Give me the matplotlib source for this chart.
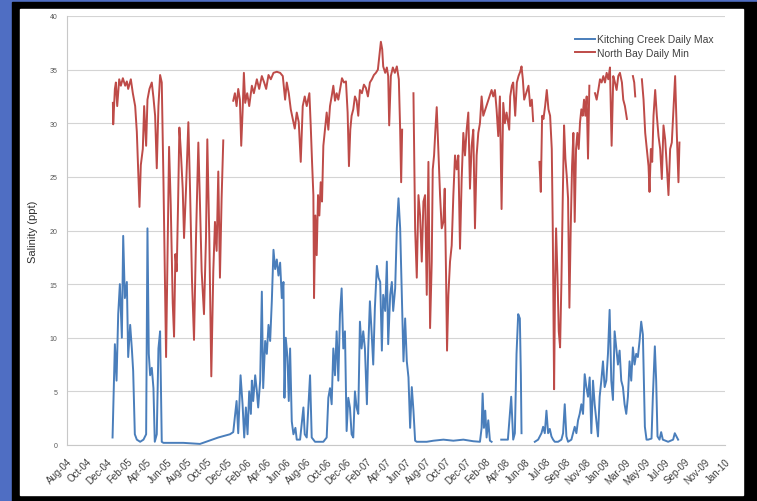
import numpy as np
import matplotlib
matplotlib.use("Agg")
import matplotlib.pyplot as plt
from matplotlib.patches import Rectangle

plt.rcParams['font.family'] = ['Liberation Sans', 'DejaVu Sans']

# x = days since 1 Aug 2004, nan = gap in the record
nb_days = [138, 139, 144, 147, 151, 157, 162, 168, 175, 180,
           184, 192, 198, 205, 210, 215, 218, 222, 228, 232,
           238, 242, 248, 255, 260, 265, 270, 275, 280, 285,
           290, 295, 298, 303, 307, 312, 318, 322, 326, 330,
           334, 338, 342, 348, 352, 358, 365, 370, 376, 382,
           388, 395, 400, 405, 412, 418, 422, 428, 434, 440,
           445, 450, 455, 460, 465, 470, 485,
           500, 505, 510, 515, 520, 524, 528, 532, 536, 542,
           548, 556, 562, 571, 578, 586, 593, 599, 606, 613,
           621, 631, 641, 649, 656, 661, 667, 673, 679, 685,
           691, 697, 703, 709, 715, 721, 729,
           733, 737, 741, 743, 747, 751, 755, 759, 763, 767,
           771, 776, 781, 786, 791, 796, 801, 806, 811, 816,
           821, 827, 833, 839, 844, 848, 852, 856, 861, 866,
           871, 876, 881, 887, 893, 899, 905, 911, 917, 923,
           929, 935, 939, 944, 948, 951, 957, 962, 966, 969,
           974, 980, 986, 992, 998, 1002, 1005, 1008, 1025,
           1042, 1047, 1052, 1057, 1062, 1067, 1072, 1077, 1082, 1087,
           1092, 1097, 1100, 1104, 1108, 1112, 1116, 1122, 1127, 1132,
           1136, 1140, 1143, 1147, 1152, 1157, 1162, 1167, 1172, 1177,
           1182, 1187, 1192, 1197, 1202, 1207, 1212, 1217, 1222, 1227,
           1232, 1237, 1242, 1247, 1252, 1277, 1282, 1287, 1292, 1297,
           1302, 1307, 1312, 1317, 1322, 1330, 1333, 1338, 1342, 1348,
           1353, 1358, 1363, 1367, 1371, 1375, 1381, 1388, 1393, 1398,
           1402, 1412,
           1421, 1425, 1429, 1433, 1438, 1443, 1448, 1453, 1458, 1461,
           1463, 1465, 1468, 1471, 1475, 1479, 1483, 1487, 1491, 1495,
           1499, 1503, 1507, 1511, 1515, 1519, 1523, 1527, 1531, 1535,
           1539, 1543, 1547, 1551, 1555, 1559, 1563, 1567, 1571, 1580,
           1588, 1593, 1598, 1603, 1608, 1613, 1618, 1623, 1628, 1633,
           1638, 1643, 1648, 1653, 1658, 1663, 1669, 1673, 1678, 1684,
           1693, 1702, 1706, 1709, 1719,
           1729, 1734, 1739, 1744, 1749, 1752, 1756, 1760, 1764,
           1769, 1774, 1779, 1784, 1789, 1794, 1799, 1804, 1809, 1814,
           1819, 1829, 1834, 1839, 1842]
nb_min = [31.9, 29.9, 33.2, 33.8, 31.6, 34.1, 33.5, 34.2, 33.5, 33.9,
          33.2, 34.1, 32.8, 31.6, 29.2, 24.8, 22.2, 26.1, 27.6, 31.6,
          27.9, 32.2, 33.2, 33.8, 32.4, 30.7, 25.8, 31.6, 34.5, 33.8,
          24.8, 14.7, 8.2, 19.3, 27.8, 22.4, 13.2, 10.1, 17.8, 16.2,
          22.4, 29.6, 27.6, 23.9, 19.3, 23.9, 30.1, 23.9, 15.3, 9.8,
          19.3, 28.2, 22.4, 16.2, 12.2, 19.3, 28.5, 19.3, 6.4, 16.2,
          20.8, 18.1, 25.5, 15.6, 23.0, 28.4, np.nan,
          32.1, 32.8, 31.6, 33.2, 32.2, 27.9, 31.0, 34.7, 31.9, 32.8,
          31.6, 33.5, 32.8, 34.1, 33.2, 34.4, 33.8, 33.2, 34.5, 34.1,
          34.7, 34.8, 34.7, 34.4, 32.2, 33.8, 32.8, 31.3, 30.4, 29.5,
          31.0, 30.1, 26.4, 31.6, 32.5, 31.6, 32.8,
          29.8, 26.4, 23.3, 13.7, 21.4, 17.7, 23.3, 21.4, 24.5, 22.7,
          27.9, 29.4, 31.0, 29.4, 31.6, 32.5, 33.5, 32.1, 32.8, 32.2,
          33.1, 34.2, 33.8, 33.9, 31.0, 26.0, 29.4, 30.7, 31.3, 32.5,
          32.1, 30.7, 33.1, 32.8, 33.6, 33.3, 32.5, 33.8, 34.1, 34.5,
          34.7, 35.0, 36.2, 37.6, 36.9, 35.3, 34.7, 35.2, 34.4, 29.8,
          34.4, 35.2, 34.7, 35.3, 34.1, 29.4, 24.5, 29.4, np.nan,
          32.8, 20.2, 15.6, 23.3, 21.4, 17.1, 22.7, 23.3, 14.0, 26.4,
          10.9, 17.1, 25.7, 27.0, 29.4, 31.5, 28.2, 23.3, 20.2, 20.8,
          23.9, 15.9, 8.8, 14.0, 17.1, 18.6, 23.3, 27.0, 25.7, 27.0,
          18.3, 24.8, 29.1, 27.0, 29.4, 31.0, 23.9, 27.9, 29.4, 20.2,
          27.0, 29.1, 30.0, 32.5, 30.7, 33.1, 32.5, 33.1, 31.3, 28.8,
          32.5, 22.0, 31.9, 30.0, 31.0, 29.4, 32.5, 33.5, 33.8, 30.7,
          33.8, 34.4, 34.8, 35.3, 34.1, 32.2, 32.8, 33.5, 31.6, 32.2,
          30.2, np.nan,
          26.4, 23.6, 30.7, 30.4, 31.6, 33.1, 31.3, 30.7, 27.6, 20.2,
          12.2, 5.2, 15.2, 20.2, 15.9, 10.6, 9.1, 15.2, 23.0, 29.8,
          26.7, 25.1, 23.0, 12.8, 20.2, 26.0, 29.1, 20.8, 27.6, 29.1,
          27.6, 30.1, 31.3, 30.7, 32.2, 30.7, 32.5, 26.7, 33.5, np.nan,
          32.8, 32.2, 33.1, 34.1, 33.8, 34.4, 33.8, 34.7, 34.1, 35.2,
          27.9, 34.4, 33.8, 33.1, 34.4, 34.7, 33.8, 32.2, 31.6, 30.4,
          np.nan, 34.4, 33.8, 32.5, np.nan,
          34.1, 32.2, 29.1, 27.6, 26.0, 23.6, 27.6, 26.4, 30.7,
          33.1, 30.7, 28.8, 27.6, 24.8, 29.8, 28.5, 26.0, 23.3, 27.6,
          28.2, 34.4, 29.1, 24.5, 28.2]

kc_days = [137, 144, 149, 154, 159, 165, 169, 174, 180, 184,
           190, 195, 199, 204, 210, 220, 230, 238, 242, 246,
           250, 255, 260, 264, 270, 275, 280, 285, 290, 350,
           400, 455, 490, 500, 510, 515, 522, 528, 533, 538,
           543, 548, 553, 556, 560, 566, 571, 575, 581, 586,
           590, 596, 601, 606, 611, 616, 621, 626, 631, 636,
           641, 646, 651, 654, 658, 663, 667, 671, 676, 681,
           687, 691, 701, 711, 715, 721, 731, 736, 746, 771,
           781, 786, 791, 796, 801, 806, 811, 816, 821, 826,
           831, 836, 841, 846, 851, 856, 861, 866, 871, 876,
           881, 886, 891, 896, 902, 906, 911, 916, 921, 926,
           932,
           937, 942, 947, 951, 957, 962, 966, 972, 977, 981,
           987, 992, 997, 1002, 1007, 1012, 1017, 1022, 1027, 1032,
           1037, 1042, 1047, 1052, 1082, 1102, 1132, 1162, 1192, 1222,
           1242, 1247, 1250, 1254, 1258, 1262, 1267, 1272, 1277, 1292,
           1306, 1326, 1336, 1342, 1347, 1352, 1357, 1362, 1365, 1367,
           1390,
           1407, 1417, 1427, 1432, 1437, 1442, 1447, 1452, 1457, 1462,
           1467, 1477, 1487, 1492, 1497, 1502, 1507, 1517, 1522, 1527,
           1532, 1537, 1542, 1547, 1552, 1557, 1562, 1567, 1572, 1577,
           1582, 1587, 1592, 1597, 1602, 1607, 1612, 1617, 1622, 1627,
           1632, 1637, 1642, 1647, 1652, 1657, 1662, 1667, 1672, 1677,
           1682, 1687, 1692, 1697, 1702, 1707, 1712, 1717, 1722, 1727,
           1732, 1738, 1743, 1748, 1758, 1762, 1768, 1772, 1776, 1782,
           1787, 1792, 1808, 1823, 1828, 1833, 1838]
kc_max = [0.7, 9.4, 6.0, 12.2, 15.0, 10.0, 19.5, 13.7, 15.2, 8.2,
          11.2, 9.0, 6.9, 1.0, 0.5, 0.3, 0.5, 1.0, 20.2, 8.5,
          6.5, 7.2, 5.3, 0.3, 1.0, 9.0, 10.6, 0.3, 0.2, 0.2,
          0.1, 0.7, 1.0, 1.2, 4.1, 1.1, 6.5, 3.8, 0.7, 3.5,
          1.0, 5.0, 2.9, 6.0, 4.1, 6.5, 5.0, 3.5, 6.0, 14.3,
          5.3, 9.7, 8.5, 11.2, 9.7, 13.4, 18.2, 16.4, 17.3, 15.8,
          17.0, 13.7, 15.2, 4.4, 10.0, 8.2, 4.1, 9.0, 2.2, 1.0,
          1.6, 0.5, 0.5, 3.5, 1.0, 0.7, 6.5, 0.7, 0.3, 0.3,
          0.7, 4.4, 5.3, 3.8, 9.0, 6.5, 10.6, 6.0, 12.2, 14.6,
          9.0, 10.6, 1.3, 4.4, 3.5, 1.0, 0.7, 5.0, 3.5, 2.9,
          11.5, 9.0, 10.6, 9.0, 3.8, 9.0, 13.4, 10.6, 7.5, 12.8,
          16.7,
          15.6, 15.2, 8.8, 14.0, 12.5, 17.1, 9.4, 14.0, 15.2, 12.5,
          14.6, 20.2, 23.0, 20.2, 14.0, 7.8, 11.8, 7.8, 6.3, 1.6,
          5.4, 3.2, 0.4, 0.3, 0.3, 0.4, 0.5, 0.4, 0.5, 0.35,
          0.3, 1.6, 4.8, 1.6, 3.2, 0.7, 2.3, 0.4, 0.3, np.nan,
          0.5, 0.5, 4.5, 0.5, 1.1, 8.5, 12.2, 11.8, 6.6, 1.1,
          np.nan,
          0.3, 0.5, 1.1, 1.7, 1.1, 3.2, 1.1, 1.5, 0.8, 0.5,
          0.3, 0.3, 0.5, 1.1, 3.8, 0.8, 0.3, 0.5, 1.1, 1.7,
          1.1, 2.3, 2.9, 3.8, 2.9, 6.6, 5.4, 4.5, 6.3, 1.1,
          6.0, 3.8, 2.3, 0.8, 4.5, 6.0, 7.8, 5.4, 6.0, 8.5,
          12.6, 6.0, 4.2, 10.6, 9.1, 7.5, 8.8, 6.0, 5.4, 3.8,
          2.9, 4.5, 7.8, 6.0, 9.1, 7.5, 8.5, 8.2, 9.7, 11.5,
          10.3, 1.7, 0.5, 0.5, 0.6, 4.5, 9.2, 6.0, 0.8, 0.5,
          1.2, 0.5, 0.3, 0.5, 1.1, 0.8, 0.5]

tick_labels = ["Aug-04", "Oct-04", "Dec-04", "Feb-05", "Apr-05", "Jun-05",
               "Aug-05", "Oct-05", "Dec-05", "Feb-06", "Apr-06", "Jun-06",
               "Aug-06", "Oct-06", "Dec-06", "Feb-07", "Apr-07", "Jun-07",
               "Aug-07", "Oct-07", "Dec-07", "Feb-08", "Apr-08", "Jun-08",
               "Jul-08", "Sep-08", "Nov-08", "Jan-09", "Mar-09", "May-09",
               "Jul-09", "Sep-09", "Nov-09", "Jan-10"]
x_end = 1979  # 1 Jan 2010

W, H = 757, 502
fig = plt.figure(figsize=(W / 100, H / 100), dpi=100)
fig.patch.set_facecolor('#4f6ec3')
# black slide frame and white chart panel, behind the axes
fig.patches.append(Rectangle((12 / W, 0), 1, (H - 3) / H, transform=fig.transFigure,
                             color='black', zorder=-2))
fig.patches.append(Rectangle((20 / W, 6 / H), 723 / W, 486 / H, transform=fig.transFigure,
                             color='white', zorder=-1))

ax = fig.add_axes([67 / W, (H - 446) / H, 658 / W, 429 / H])
ax.set_facecolor('none')

ax.plot(kc_days, kc_max, color='#4a7ebb', lw=1.4, label='Kitching Creek Daily Max')
ax.plot(nb_days, nb_min, color='#be4b48', lw=1.4, label='North Bay Daily Min')

ax.set_xlim(0, x_end)
ax.set_ylim(0, 40)
ax.set_yticks(np.arange(0, 41, 5))
ax.yaxis.grid(True, color='#d4d4d4', lw=0.8)
ax.set_axisbelow(True)
ax.set_xticks(np.linspace(0, x_end, len(tick_labels)))
ax.set_xticklabels(tick_labels, rotation=45, ha='right', rotation_mode='anchor')
ax.tick_params(axis='x', labelsize=7, colors='#404040', length=0, pad=8)
ax.tick_params(axis='y', labelsize=5, colors='#595959', length=0, pad=7)
for s in ['top', 'right']:
    ax.spines[s].set_visible(False)
for s in ['left', 'bottom']:
    ax.spines[s].set_color('#c8c8c8')
    ax.spines[s].set_linewidth(0.8)
ax.set_ylabel('Salinity (ppt)', fontsize=8, color='#303030', labelpad=8)

ax.legend(loc='upper left', bbox_to_anchor=(570 / W, 1 - 30 / H),
          bbox_transform=fig.transFigure, frameon=False, fontsize=7.5,
          handlelength=1.9, handletextpad=0.2, labelspacing=0.35, borderpad=0,
          labelcolor='#404040')

fig.savefig('out.png', dpi=100, facecolor=fig.get_facecolor())
